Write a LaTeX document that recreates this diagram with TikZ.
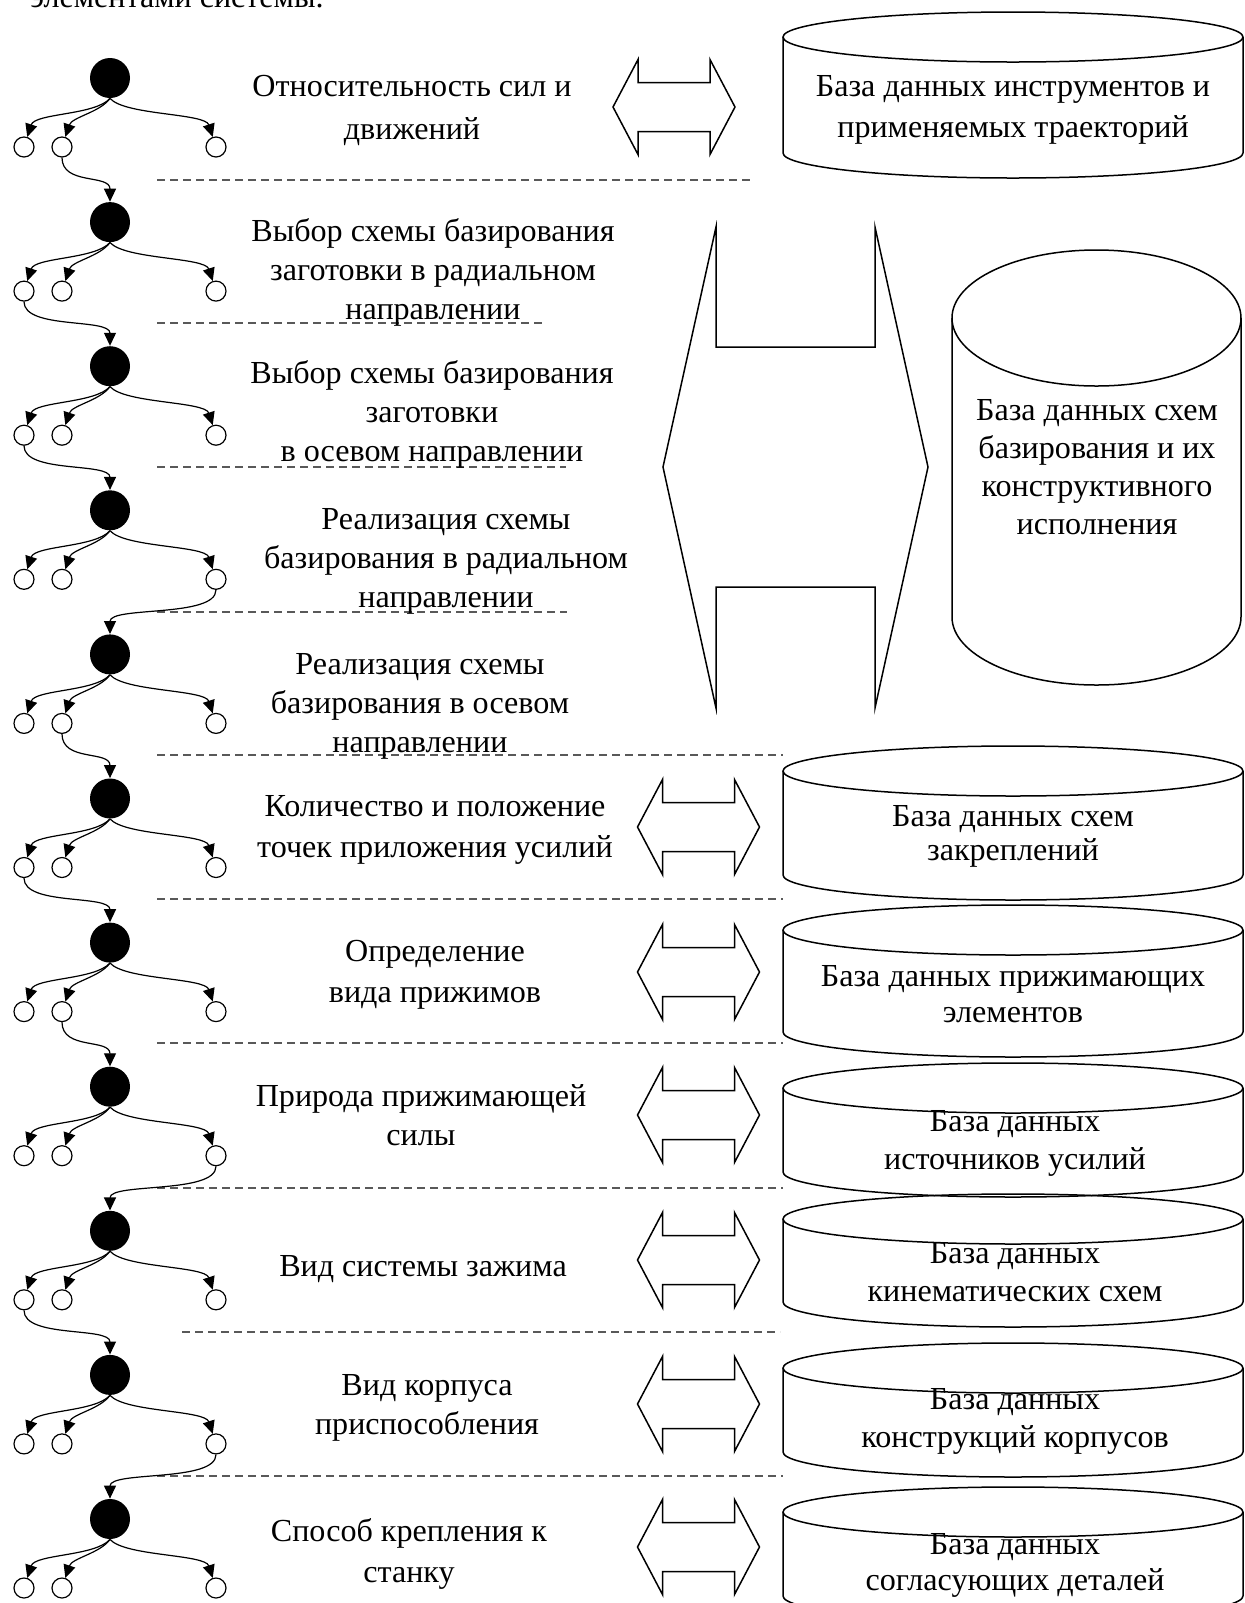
\documentclass[tikz,border=0pt]{standalone}
\usepackage{fontspec}
\setmainfont{Liberation Serif}
\usetikzlibrary{arrows.meta}
\tikzset{
  lbl/.style={align=center,inner sep=0pt,font=\fontsize{16.05}{19.5}\selectfont},
  lblw/.style={align=center,inner sep=0pt,font=\fontsize{16.05}{20.5}\selectfont},
  dbl/.style={align=center,inner sep=0pt,font=\fontsize{16.05}{19}\selectfont},
  bnode/.style={circle,fill=black,minimum size=20pt,inner sep=0pt},
  snode/.style={circle,draw,fill=white,line width=0.6pt,minimum size=10pt,inner sep=0pt},
  tedge/.style={line width=0.6pt,-{Triangle[length=6.5pt,width=6pt]}},
  sepline/.style={line width=0.8pt,draw=black!65,dash pattern=on 4pt off 2.5pt},
  shp/.style={line width=0.75pt,draw=black,line join=miter},
}
\newcommand\dbarrow[2]{\draw[shp] (#1-61,#2) -- (#1-36,#2-47.5) -- (#1-36,#2-24.5) -- (#1+36,#2-24.5) -- (#1+36,#2-47.5) -- (#1+61,#2) -- (#1+36,#2+47.5) -- (#1+36,#2+24.5) -- (#1-36,#2+24.5) -- (#1-36,#2+47.5) -- cycle;}
\newcommand\dbcyl[7]{\draw[shp,fill=white] (#1,#4) -- (#1,#5) arc[start angle=180,end angle=360,x radius=#6pt,y radius=#7pt] -- (#2,#4);
  \draw[shp] (#3,#4) ellipse[x radius=#6pt,y radius=#7pt];}
\begin{document}
\begin{tikzpicture}[x=0.5pt,y=-0.5pt]
\useasboundingbox (0,0) rectangle (1244,1603);
\clip (0,0) rectangle (1244,1603);
\fill[white] (0,0) rectangle (1244,1603);

% heading remnant
\node[lbl,anchor=base west] (head) at (30,7) {элементами системы.};

% separators
\draw[sepline] (157,180) -- (754,180);
\draw[sepline] (157,323) -- (544,323);
\draw[sepline] (157,467) -- (566,467);
\draw[sepline] (157,612) -- (567,612);
\draw[sepline] (157,755) -- (783,755);
\draw[sepline] (157,899) -- (783,899);
\draw[sepline] (157,1043) -- (783,1043);
\draw[sepline] (157,1188) -- (783,1188);
\draw[sepline] (182,1332) -- (780,1332);
\draw[sepline] (157,1476) -- (783,1476);

% trees
\foreach \i in {0,...,10}{
  \pgfmathsetmacro\yy{78+144.1*\i}
  \node[bnode] (b\i) at (110,\yy) {};
  \node[snode] (sa\i) at (24,\yy+69) {};
  \node[snode] (sb\i) at (62,\yy+69) {};
  \node[snode] (sc\i) at (216,\yy+69) {};
  \draw[tedge] (b\i.south) .. controls +(-15,17) and +(11,-34) .. (sa\i);
  \draw[tedge] (b\i.south) .. controls +(-10,14) and +(10,-30) .. (sb\i);
  \draw[tedge] (b\i.south) .. controls +(15,17) and +(-11,-34) .. (sc\i);
}
\foreach \i/\s in {0/b,1/a,2/a,3/c,4/b,5/a,6/b,7/c,8/a,9/c}{
  \pgfmathtruncatemacro\j{\i+1}
  \draw[tedge] (s\s\i.south) .. controls +(0,28) and +(0,-28) .. (b\j.north);
}

% step texts
\node[lbl,font=\fontsize{16.05}{21.5}\selectfont] (t1) at (412,110) {Относительность сил и\\движений};
\node[lbl] (t2) at (433,272) {Выбор схемы базирования\\заготовки в радиальном\\направлении};
\node[lbl] (t3) at (432,414) {Выбор схемы базирования\\заготовки\\в осевом направлении};
\node[lbl] (t4) at (446,561) {Реализация схемы\\базирования в радиальном\\направлении};
\node[lbl] (t5) at (420,706) {Реализация схемы\\базирования в осевом\\направлении};
\node[lblw] (t6) at (435,830) {Количество и положение\\точек приложения усилий};
\node[lblw] (t7) at (435,975) {Определение\\вида прижимов};
\node[lbl] (t8) at (421,1115) {Природа прижимающей\\силы};
\node[lbl] (t9) at (423,1269) {Вид системы зажима};
\node[lbl] (t10) at (427,1408) {Вид корпуса\\приспособления};
\node[lblw] (t11) at (409,1554) {Способ крепления к\\станку};

% double arrows
\dbarrow{674}{107}
\dbarrow{698.5}{827}
\dbarrow{698.5}{972}
\dbarrow{698.5}{1115}
\dbarrow{698.5}{1260}
\dbarrow{698.5}{1404}
\dbarrow{698.5}{1547}
\draw[shp] (663,467) -- (716,227) -- (716,347) -- (875,347) -- (875,227) -- (928,467) -- (875,708) -- (875,587) -- (716,587) -- (716,708) -- cycle;

% databases
\dbcyl{783}{1243}{1013}{37}{153}{115}{12.5}
\dbcyl{952}{1241}{1096.5}{318}{617}{72.25}{34}
\dbcyl{783}{1243}{1013}{771}{875}{115}{12.5}
\dbcyl{783}{1243}{1013}{930}{1032}{115}{12.5}
\dbcyl{783}{1243}{1013}{1088}{1172}{115}{12.5}
\dbcyl{783}{1243}{1013}{1219}{1302}{115}{12.5}
\dbcyl{783}{1243}{1013}{1368}{1452}{115}{12.5}
\dbcyl{783}{1243}{1013}{1512}{1596}{115}{12.5}

\node[dbl,font=\fontsize{16.05}{20.5}\selectfont] (db1) at (1013,110) {База данных инструментов и\\применяемых траекторий};
\node[dbl] (db2) at (1097,467) {База данных схем\\базирования и их\\конструктивного\\исполнения};
\node[dbl,font=\fontsize{16.05}{17}\selectfont] (db6) at (1013,836) {База данных схем\\закреплений};
\node[dbl,font=\fontsize{16.05}{18}\selectfont] (db7) at (1013,994) {База данных прижимающих\\элементов};
\node[dbl] (db8) at (1015,1143) {База данных\\источников усилий};
\node[dbl] (db9) at (1015,1272) {База данных\\кинематических схем};
\node[dbl] (db10) at (1015,1421) {База данных\\конструкций корпусов};
\node[dbl,font=\fontsize{16.05}{18}\selectfont] (db11) at (1015,1565) {База данных\\согласующих деталей};
\end{tikzpicture}
\end{document}
